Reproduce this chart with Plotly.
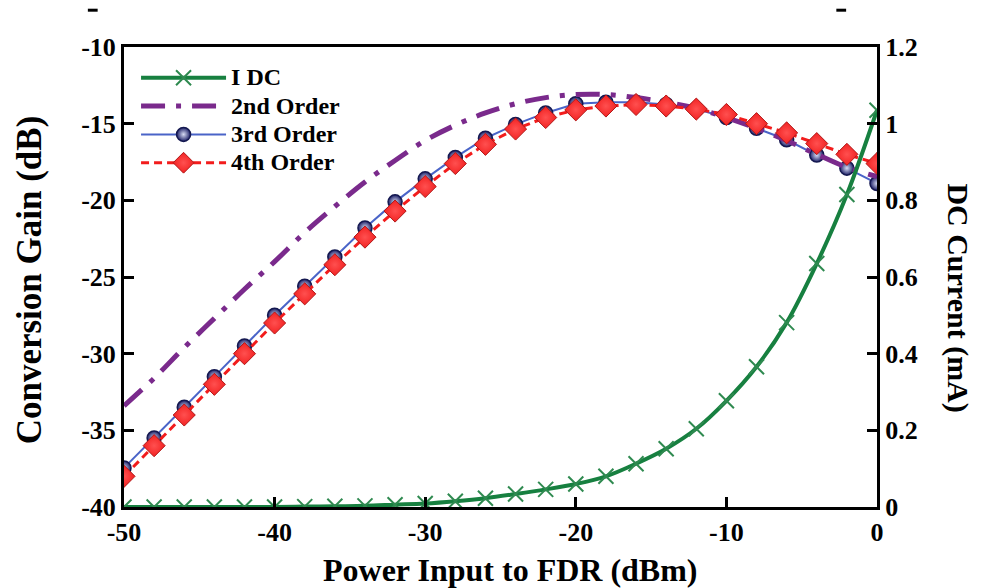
import plotly.graph_objects as go

power_dbm = [-50, -48, -46, -44, -42, -40, -38, -36, -34, -32, -30, -28, -26,
             -24, -22, -20, -18, -16, -14, -12, -10, -8, -6, -4, -2, 0]

gain_2nd = [-33.4, -31.6, -29.6, -27.7, -25.8, -24.0, -22.1, -20.4, -18.8, -17.4,
            -16.1, -15.1, -14.3, -13.7, -13.3, -13.1, -13.1, -13.3, -13.6, -14.0,
            -14.6, -15.3, -16.1, -17.0, -17.85, -18.45]

gain_3rd = [-37.45, -35.5, -33.5, -31.5, -29.5, -27.5, -25.6, -23.7, -21.8, -20.1,
            -18.6, -17.2, -15.95, -15.05, -14.3, -13.7, -13.6, -13.6, -13.75, -14.05,
            -14.6, -15.3, -16.05, -17.05, -17.9, -18.9]

gain_4th = [-38.0, -36.0, -34.0, -32.0, -30.0, -28.0, -26.1, -24.2, -22.4, -20.7,
            -19.1, -17.6, -16.35, -15.35, -14.6, -14.1, -13.85, -13.75, -13.85, -14.05,
            -14.4, -15.0, -15.6, -16.3, -17.0, -17.6]

idc_ma = [0.0, 0.0, 0.0, 0.0, 0.0, 0.0, 0.001, 0.002, 0.003, 0.006,
          0.009, 0.015, 0.023, 0.034, 0.046, 0.06, 0.08, 0.113, 0.152, 0.204,
          0.277, 0.366, 0.481, 0.635, 0.815, 1.035]

x_ticks = [-50, -40, -30, -20, -10, 0]
x_ticktext = ["-50", "-40", "-30", "-20", "-10", "0"]
y_ticks = [-40, -35, -30, -25, -20, -15, -10]
y_ticktext = ["-40", "-35", "-30", "-25", "-20", "-15", "-10"]
y2_ticks = [0, 0.2, 0.4, 0.6, 0.8, 1.0, 1.2]
y2_ticktext = ["0", "0.2", "0.4", "0.6", "0.8", "1", "1.2"]

FONT = "Liberation Serif"


def legend_name(s):
    return "<span style='font-size:24px'>" + s + "</span>"


fig = go.Figure()

fig.add_trace(go.Scatter(
    x=power_dbm, y=gain_3rd, name=legend_name("3rd Order"), legendrank=3,
    mode="lines+markers", line=dict(color="#4a64c8", width=2),
    marker=dict(symbol="circle", size=14, color="#1c1f66",
                line=dict(color="#141850", width=1.5),
                gradient=dict(type="radial", color="#d8dcf4")),
))
fig.add_trace(go.Scatter(
    x=power_dbm, y=gain_2nd, name=legend_name("2nd Order"), legendrank=2,
    mode="lines", line=dict(color="#7a2a8c", width=5, shape="spline",
                            dash="24px,11px,5px,11px"),
))
fig.add_trace(go.Scatter(
    x=power_dbm, y=gain_4th, name=legend_name("4th Order"), legendrank=4,
    mode="lines+markers", line=dict(color="#f21c1c", width=3, dash="8px,5px"),
    marker=dict(symbol="diamond", size=17, color="#f22222",
                line=dict(color="#b01818", width=1),
                gradient=dict(type="radial", color="#ff5050")),
))
fig.add_trace(go.Scatter(
    x=power_dbm, y=idc_ma, name=legend_name("I DC"), legendrank=1, yaxis="y2",
    mode="lines+markers", line=dict(color="#178040", width=4, shape="spline"),
    marker=dict(symbol="x-thin-open", size=15, color="#2f8a50",
                line=dict(color="#2f8a50", width=2)),
))

axis_common = dict(
    showline=True, linecolor="black", linewidth=3,
    ticks="inside", ticklen=10, tickwidth=2.5, tickcolor="black",
    showgrid=False, zeroline=False,
    tickfont=dict(family=FONT, size=26, color="black", weight="bold"),
)

fig.update_layout(
    width=983, height=588,
    margin=dict(l=124, r=106, t=47, b=81),
    paper_bgcolor="white", plot_bgcolor="white",
    font=dict(family=FONT, color="black"),
    xaxis=dict(range=[-50, 0], tickvals=x_ticks, ticktext=x_ticktext,
               mirror=True, **axis_common),
    yaxis=dict(range=[-40, -10], tickvals=y_ticks, ticktext=y_ticktext,
               **axis_common),
    yaxis2=dict(range=[0, 1.2], tickvals=y2_ticks, ticktext=y2_ticktext,
                overlaying="y", side="right", **axis_common),
    legend=dict(x=0.016, y=0.975, xanchor="left", yanchor="top",
                bgcolor="rgba(0,0,0,0)", borderwidth=0,
                font=dict(family=FONT, size=19.5, color="black", weight="bold"),
                itemwidth=85, tracegroupgap=0, traceorder="normal"),
    showlegend=True,
)

fig.add_annotation(text="Power Input to FDR (dBm)", xref="paper", yref="paper",
                   x=0.513, y=-0.137, xanchor="center", yanchor="middle",
                   showarrow=False,
                   font=dict(family=FONT, size=32, color="black", weight="bold"))
fig.add_annotation(text="Conversion Gain (dB)", xref="paper", yref="paper",
                   x=-0.126, y=0.493, xanchor="center", yanchor="middle",
                   textangle=-90, showarrow=False,
                   font=dict(family=FONT, size=35, color="black", weight="bold"))
fig.add_annotation(text="DC Current (mA)", xref="paper", yref="paper",
                   x=1.108, y=0.455, xanchor="center", yanchor="middle",
                   textangle=90, showarrow=False,
                   font=dict(family=FONT, size=30, color="black", weight="bold"))

# small stray dash marks along the top edge of the original image
for x0, x1 in [(-0.048, -0.035), (0.946, 0.959)]:
    fig.add_shape(type="line", xref="paper", yref="paper",
                  x0=x0, x1=x1, y0=1.08, y1=1.08,
                  line=dict(color="black", width=3))

fig.write_html("out.html")
